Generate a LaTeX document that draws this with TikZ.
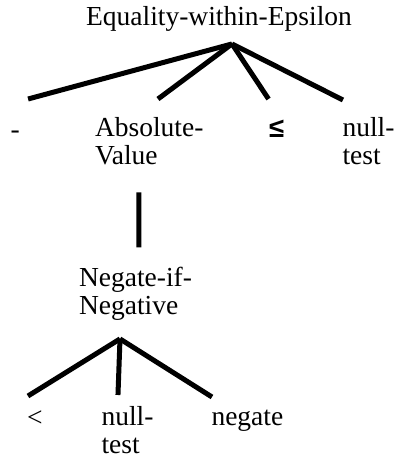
\documentclass[tikz,border=0pt]{standalone}
\usepackage{fontspec}
\setmainfont{Liberation Serif}
\newfontfamily\relfont{Liberation Sans}

\begin{document}
\begin{tikzpicture}[
    x=1pt, y=-1pt,
    word/.style={inner sep=0pt, outer sep=0pt, align=left, anchor=base west, font=\fontsize{27.5}{28}\selectfont},
    branch/.style={line width=5pt}
  ]
    \useasboundingbox (0,0) rectangle (395,463);
    \node[word, anchor=base] (eq) at (219,25) {Equality-within-Epsilon};
    \node[word] (minus) at (10.5,138) {-};
    \node[word] (absval) at (95,164) {Absolute-\\Value};
    \node[word] (leq) at (269,137) {\relfont\bfseries ≤};
    \node[word] (nulltest) at (342.5,164) {null-\\test};
    \node[word] (neg) at (79,314) {Negate-if-\\Negative};
    \node[word] (lt) at (27.2,426) {<};
    \node[word] (nulltestb) at (101.5,453) {null-\\test};
    \node[word] (negate) at (211.5,425) {negate};
    \draw[branch] ([shift={(13,13)}]eq.south) -- ([shift={(13,-39)}]minus.base);
    \draw[branch] ([shift={(13,13)}]eq.south) -- ([shift={(8.75,-65)}]absval.base);
    \draw[branch] ([shift={(13,13)}]eq.south) -- ([shift={(-8,-38)}]leq.base);
    \draw[branch] ([shift={(13,13)}]eq.south) -- ([shift={(-25.5,-64)}]nulltest.base);
    \draw[branch] ([shift={(-10.25,28)}]absval.south) -- ([shift={(3.5,-19.2)}]neg.north);
    \draw[branch] ([shift={(-15.5,19)}]neg.south) -- ([shift={(-7,-30)}]lt.base);
    \draw[branch] ([shift={(-15.5,19)}]neg.south) -- ([shift={(-9.5,-58)}]nulltestb.base);
    \draw[branch] ([shift={(-15.5,19)}]neg.south) -- ([shift={(-35.4,-28)}]negate.base);
  \end{tikzpicture}
\end{document}
